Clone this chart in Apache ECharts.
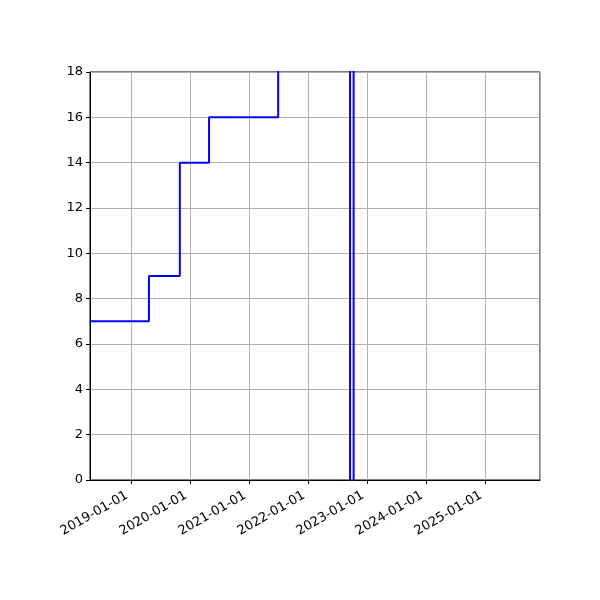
<!DOCTYPE html>
<html>
<head>
<meta charset="utf-8">
<script src="https://cdn.jsdelivr.net/npm/echarts@6/dist/echarts.min.js"></script>
<style>html,body{margin:0;padding:0;background:#fff;}#c{width:600px;height:600px;}</style>
</head>
<body>
<div id="c"></div>
<script>
// Step data (value holds from its date until the next date)
const dates = ['2018-04-20', '2019-04-20', '2019-10-28', '2020-04-26', '2021-06-28', '2022-09-16', '2022-10-08', '2025-12-05'];
const values = [7, 9, 14, 16, 30, -5, 30, 30];
const xMin = '2018-04-20';
const xMax = '2025-12-05';
const yTicks = [0, 2, 4, 6, 8, 10, 12, 14, 16, 18];

const chart = echarts.init(document.getElementById('c'));
const DAY = 86400000;
chart.setOption({
  animation: false,
  grid: { left: 90, right: 60, top: 72, bottom: 120, show: true, borderColor: '#000', borderWidth: 1, backgroundColor: 'transparent' },
  xAxis: {
    type: 'time',
    min: xMin, max: xMax,
    minInterval: 365 * DAY, maxInterval: 366 * DAY,
    axisLine: { show: true, lineStyle: { color: '#000', width: 1 } },
    axisTick: { show: true, length: 4, lineStyle: { color: '#000' } },
    axisLabel: { formatter: '{yyyy}-{MM}-{dd}', rotate: 30, color: '#000', fontSize: 13, fontFamily: 'DejaVu Sans', margin: 12, padding: [0, 5, 0, 0], showMinLabel: false, showMaxLabel: false },
    splitLine: { show: true, lineStyle: { color: '#b0b0b0', width: 1 } }
  },
  yAxis: {
    type: 'value',
    min: yTicks[0], max: yTicks[yTicks.length - 1], interval: 2,
    axisLine: { show: true, lineStyle: { color: '#000', width: 1 } },
    axisTick: { show: true, length: 4, lineStyle: { color: '#000' } },
    axisLabel: { color: '#000', fontSize: 13, fontFamily: 'DejaVu Sans', margin: 7 },
    splitLine: { show: true, lineStyle: { color: '#b0b0b0', width: 1 } }
  },
  series: [{
    type: 'line',
    step: 'end',
    showSymbol: false,
    clip: true,
    data: dates.map((d, i) => [d, values[i]]),
    lineStyle: { color: '#0000ff', width: 2 },
    itemStyle: { color: '#0000ff' }
  }]
});
</script>
</body>
</html>
